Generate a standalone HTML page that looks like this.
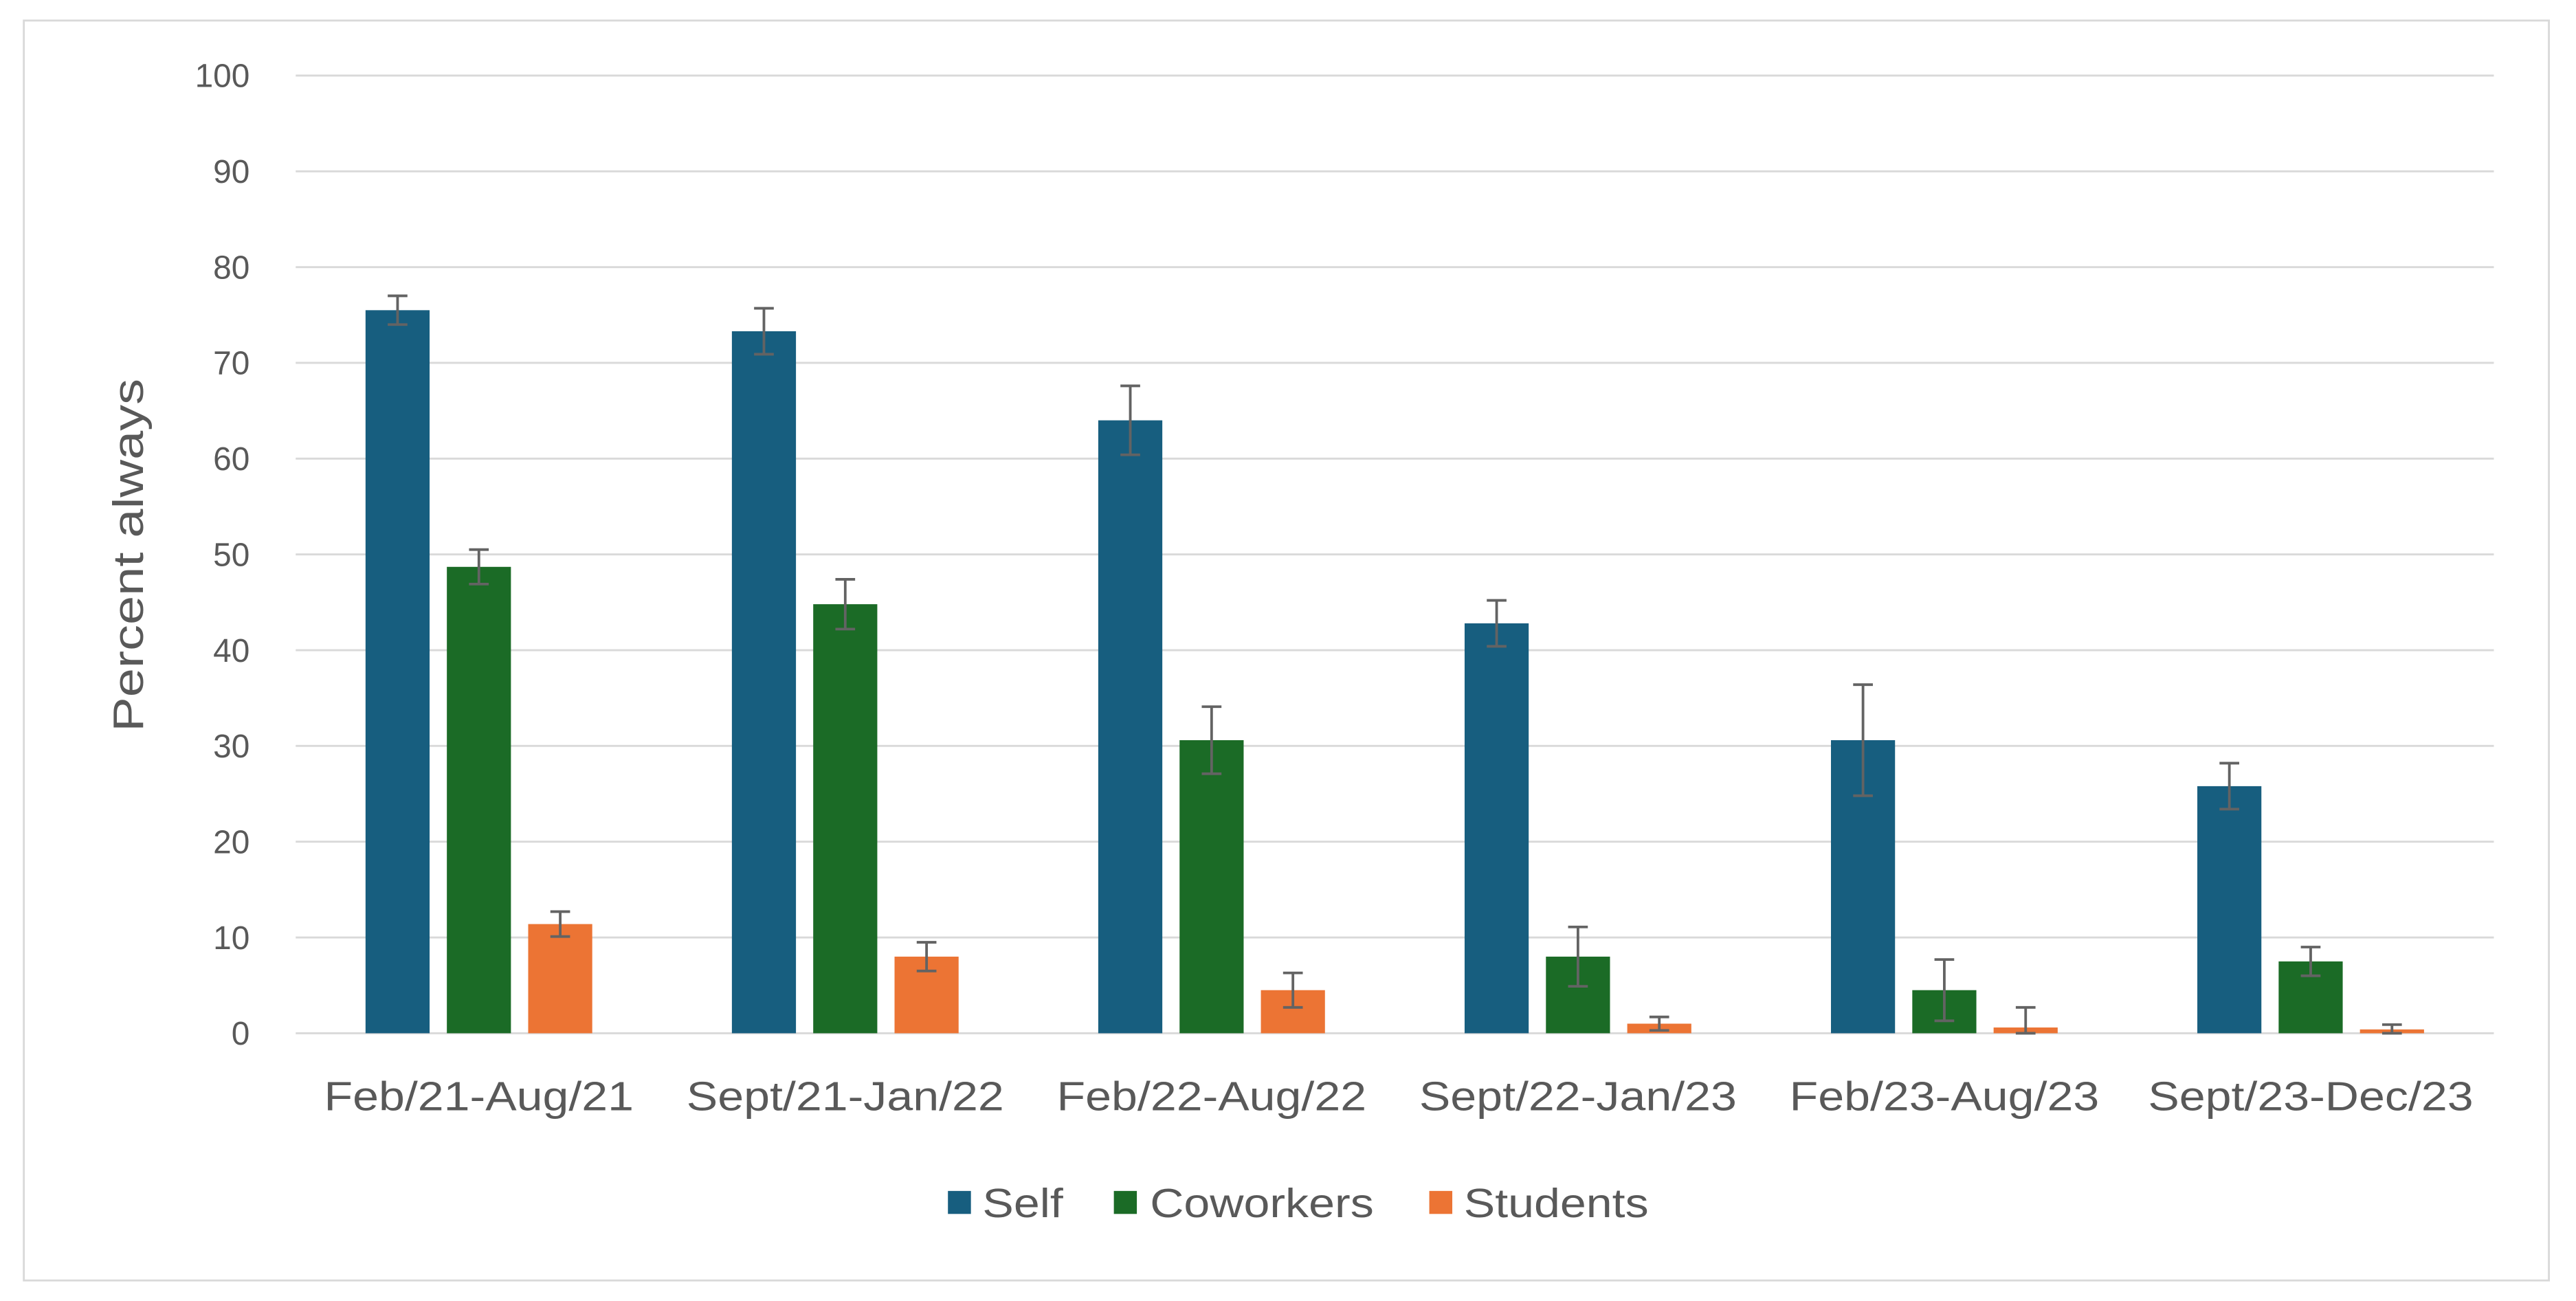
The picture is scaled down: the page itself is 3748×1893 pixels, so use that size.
<!DOCTYPE html>
<html><head><meta charset="utf-8"><style>
html,body{margin:0;padding:0;background:#fff;}
svg{display:block;font-family:"Liberation Sans",Arial,sans-serif;}
</style></head><body>
<svg id="chart" width="3748" height="1893" viewBox="0 0 1568 792" preserveAspectRatio="none" xmlns="http://www.w3.org/2000/svg">
<rect x="14.5" y="12.5" width="1537" height="767" fill="#fff" stroke="#d9d9d9" stroke-width="1.2"/>
<g id="grid"></g><g id="bars"></g><g id="errs"></g><g id="labels"></g>
<text class="stretch" data-k="1.22" transform="translate(87,338) rotate(-90)" text-anchor="middle" font-size="26" fill="#595959">Percent always</text>
<g>
<rect x="577" y="725" width="14" height="14" fill="#175e7f"/>
<text class="stretch" data-k="1.14" x="598" y="741" font-size="25" fill="#595959">Self</text>
<rect x="678" y="725" width="14" height="14" fill="#1b6b26"/>
<text class="stretch" data-k="1.14" x="700" y="741" font-size="25" fill="#595959">Coworkers</text>
<rect x="870" y="725" width="14" height="14" fill="#ec7434"/>
<text class="stretch" data-k="1.14" x="891" y="741" font-size="25" fill="#595959">Students</text>
</g>
</svg>
<script>
const categories = ["Feb/21-Aug/21","Sept/21-Jan/22","Feb/22-Aug/22","Sept/22-Jan/23","Feb/23-Aug/23","Sept/23-Dec/23"];
const selfValues = [75.5, 73.3, 64, 42.8, 30.6, 25.8];
const selfErr = [1.5, 2.4, 3.6, 2.4, 5.8, 2.4];
const coworkerValues = [48.7, 44.8, 30.6, 8, 4.5, 7.5];
const coworkerErr = [1.8, 2.6, 3.5, 3.1, 3.2, 1.5];
const studentValues = [11.4, 8, 4.5, 1, 0.6, 0.4];
const studentErr = [1.3, 1.5, 1.8, 0.7, 2.1, 0.5];
const yTicks = [0,10,20,30,40,50,60,70,80,90,100];

const NS="http://www.w3.org/2000/svg";
const X0=180, X1=1518, Y0=629, Y100=46;
const y = v => Y0 - (v/100)*(Y0-Y100);
const gw=(X1-X0)/categories.length;
const bw=39, gap=10.5;
const xBar=(i,s)=> X0 + gw*i + gw/2 - 1.5*bw - gap + s*(bw+gap);
function mk(tag,attrs,parent){const e=document.createElementNS(NS,tag);for(const k in attrs)e.setAttribute(k,attrs[k]);document.getElementById(parent).appendChild(e);return e;}

yTicks.forEach(t=>{
  const l=mk('line',{x1:X0,x2:X1,y1:y(t),y2:y(t),stroke:'#d9d9d9','stroke-width':1.2},'grid');
  
  
  const tx=mk('text',{x:152,y:y(t)+7,'text-anchor':'end','font-size':20,fill:'#595959'},'labels');
  
  
  tx.textContent=t;
});
categories.forEach((c,i)=>{
  const tx=mk('text',{x:X0+gw*i+gw/2,y:676,'text-anchor':'middle','font-size':25,fill:'#595959',class:'stretch','data-k':'1.14'},'labels');
  
  
  tx.textContent=c;
});
const series=[[selfValues,selfErr,'#175e7f','self'],[coworkerValues,coworkerErr,'#1b6b26','coworkers'],[studentValues,studentErr,'#ec7434','students']];
series.forEach(([vals,errs,col,nm],s)=>{
  vals.forEach((v,i)=>{
    const x=xBar(i,s);
    const r=mk('rect',{x:x,y:y(v),width:bw,height:Y0-y(v),fill:col},'bars');
    
    
    const cx=x+bw/2, top=y(v+errs[i]), bot=y(Math.max(0,v-errs[i]));
    const g=mk('path',{d:`M${cx},${top}V${bot}M${cx-6},${top}H${cx+6}M${cx-6},${bot}H${cx+6}`,stroke:'#636363','stroke-width':1.6,fill:'none'},'errs');
    
    
  });
});
document.querySelectorAll('text.stretch').forEach(t=>{
  const w=t.getComputedTextLength();
  t.setAttribute('textLength', (w*parseFloat(t.getAttribute('data-k'))).toFixed(1));
  t.setAttribute('lengthAdjust','spacingAndGlyphs');
});
</script>
</body></html>
